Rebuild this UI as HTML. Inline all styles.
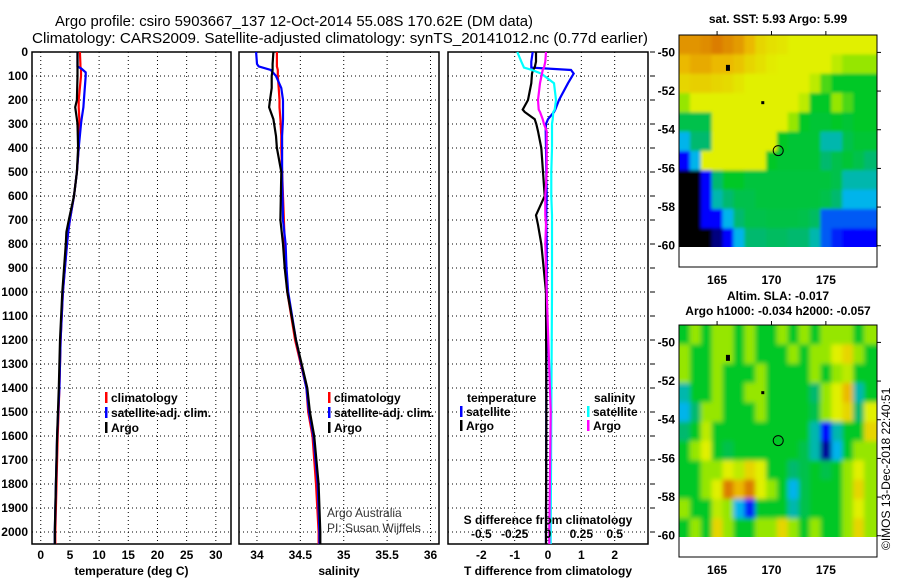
<!DOCTYPE html>
<html><head><meta charset="utf-8"><style>
body{margin:0;background:#fff;}
svg{display:block;font-family:"Liberation Sans",sans-serif;font-weight:bold;}
</style></head><body>
<svg id="c" width="900" height="580" viewBox="0 0 900 580" xmlns="http://www.w3.org/2000/svg">
<defs>
<filter id="blurS" x="-5%" y="-5%" width="110%" height="110%"><feGaussianBlur stdDeviation="1.5"/></filter>
<filter id="blurL" x="-5%" y="-5%" width="110%" height="110%"><feGaussianBlur stdDeviation="2.5"/></filter>
<clipPath id="clip1"><rect x="679" y="35" width="198" height="212"/></clipPath>
<clipPath id="clip2"><rect x="679" y="325" width="198" height="212"/></clipPath>
</defs>
<text x="55" y="26" font-size="15" font-weight="normal" textLength="478" lengthAdjust="spacingAndGlyphs">Argo profile: csiro 5903667_137 12-Oct-2014 55.08S 170.62E (DM data)</text>
<text x="32" y="43" font-size="15" font-weight="normal" textLength="616" lengthAdjust="spacingAndGlyphs">Climatology: CARS2009. Satellite-adjusted climatology: synTS_20141012.nc (0.77d earlier)</text>
<g id="g"></g>
<text transform="translate(890,550) rotate(-90)" font-size="12" font-weight="normal">©IMOS 13-Dec-2018 22:40:51</text>
</svg>
<script>
// ---------- profile data ----------
const tDepth=[0,50,60,70,85,100,200,230,280,300,400,500,600,700,750,800,1000,1200,1400,1600,1800,2000,2050];
const tClim=[6.7,6.8,6.8,6.9,6.9,6.9,6.5,6.5,6.6,6.6,6.5,6.2,5.7,5.0,4.7,4.5,3.8,3.4,3.2,2.9,2.7,2.5,2.5];
const tArgo=[6.3,6.3,6.3,6.3,6.3,6.3,6.2,5.9,6.2,6.3,6.4,6.2,5.7,4.8,4.4,4.3,3.7,3.3,3.1,2.8,2.6,2.4,2.4];
const tSat=[6.3,6.3,6.3,7.0,7.7,7.7,7.4,7.3,7.0,6.9,6.5,6.2,5.7,5.0,4.7,4.5,3.8,3.4,3.2,2.8,2.6,2.4,2.4];
const sDepth=[0,50,60,75,100,150,200,230,280,350,400,500,700,800,900,1000,1200,1400,1500,1600,1800,2000,2050];
const sClim=[34.23,34.23,34.23,34.24,34.24,34.25,34.26,34.26,34.27,34.28,34.28,34.29,34.31,34.32,34.33,34.35,34.44,34.57,34.59,34.64,34.68,34.71,34.71];
const sArgo=[34.19,34.18,34.18,34.18,34.17,34.17,34.15,34.14,34.19,34.22,34.23,34.28,34.27,34.30,34.32,34.35,34.45,34.58,34.61,34.66,34.71,34.73,34.73];
const sSat=[33.99,34.0,34.02,34.16,34.22,34.28,34.30,34.30,34.30,34.29,34.29,34.29,34.30,34.33,34.34,34.36,34.45,34.57,34.60,34.65,34.70,34.72,34.72];
const dDepth=[0,40,65,75,90,130,200,240,250,280,300,330,400,500,600,680,720,800,1000,1500,2000,2050];
const dTSat=[-0.46,-0.5,-0.5,0.69,0.77,0.6,0.33,0.22,0.18,0.0,-0.06,-0.07,-0.06,-0.05,-0.04,-0.05,-0.05,-0.04,-0.04,-0.05,-0.06,-0.06];
const dTArgo=[-0.36,-0.36,-0.4,-0.45,-0.48,-0.5,-0.6,-0.76,-0.7,-0.4,-0.35,-0.3,-0.2,-0.15,-0.1,-0.36,-0.3,-0.2,-0.06,-0.05,-0.06,-0.06];
const dSSat=[-0.23,-0.2,-0.18,-0.12,-0.05,0.045,0.06,0.05,0.04,0.035,0.03,0.03,0.03,0.025,0.025,0.03,0.03,0.03,0.03,0.025,0.02,0.02];
const dSArgo=[-0.015,-0.02,-0.03,-0.04,-0.045,-0.06,-0.075,-0.07,-0.06,-0.04,-0.03,-0.01,-0.01,-0.01,-0.02,-0.02,-0.015,-0.02,-0.01,0.02,0.01,0.01];
const depthTicks=[0,100,200,300,400,500,600,700,800,900,1000,1100,1200,1300,1400,1500,1600,1700,1800,1900,2000];
const tTicks=[0,5,10,15,20,25,30];
const sTicks=[34,34.5,35,35.5,36];
const dTTicks=[-2,-1,0,1,2];
const dSTicks=[-0.5,-0.25,0,0.25,0.5];
const dSTickLabels=["-0.5","-0.25","0","0.25","0.5"];
// ---------- map data (colour index 0..8, rows lat -49..-60, cols lon 161.5..179.5) ----------
const sstGrid=[
[7.5,7.5,7.6,7.8,7.6,7.4,7,6.5,6.3,6.2,6,6,6,6,6,6,6,6],
[7,7.2,7.2,7,7,6.8,6.5,6.3,6.1,6,6,6,6,6,5.5,5,5,5],
[6.5,6.6,6.6,6.5,6.4,6.2,6,6,6,6,6,6,5.5,4.5,4,4,4,4],
[5,6,6,6,6,6,6,6,6,6,6,5.5,4,4,5,4.5,4,4],
[3.5,3.5,3.5,6,6,6,6,6,6,6,5,4,3.8,3.8,4,3.8,4,4],
[2,3,3,6,6,6,6,6,6,4,3.8,3.8,3.8,2.5,2.5,3.5,3.8,3.8],
[1,2,6,6,6,6,6,6,4,3.8,3.8,3.8,3.8,3,3.5,3.8,3.5,3],
[0,0,1,3,4,4,3.7,3.7,3.7,3.7,3.7,3.7,3.7,3.7,3.5,2.5,2.5,2.5],
[0,0,1,2.5,3,3.5,3.5,3.7,3.7,3.7,3.7,3.7,3.7,3.5,3,2,2,2],
[0,0,1,1,2,3,3.5,3.5,3.6,3.6,3.6,3.5,3.2,1.5,1.5,1.5,1.5,1.5],
[0,0,0,0.5,1,2,3,3,3.2,3.2,3,3,2.5,1.5,1.2,1,1,1]];
const slaGrid=[
[4,5,4,5,5,4,5,4,4,5,4,5,4,5,5,5,4,5],
[5,4,4,5,5,4,5,4,4,4,5,4,5,5,6,6.5,5,4],
[5,4,4,5,4,4,4,5,4,4,4,4,5,4,5,5.5,4,4],
[2.5,4,4,5,4,4,5,5,4,4,4,4,3,5,6,7,2.5,4],
[2,3,5,5,4,4,4,5,4,4,4,4,3.5,5,6,6.5,3,6],
[3,4,5.5,4,4,4,4,4,4,4,4,4,2.5,1,2.5,4,4,6.5],
[4,5,6,4,3.5,4,4,4,4,4,4,3.5,2.5,0.6,2,4,5,5],
[4,4,5,5,6,5.5,6.5,6,4,4,3,3.5,4,3.5,4,5,6,5],
[4,4,5,6,7.8,7,7.8,6,5,4,2,3.5,4,4,4,5,6.5,5],
[5,4,4,5.5,5,2,1.2,4,4,4,2.5,3.5,4,4,4,5,6,5],
[4,5,4,6.5,5,4,4,5,5,6.5,5,4,5,4,4,5,6.5,5]];
const latTicks=[-50,-52,-54,-56,-58,-60];
const lonTicks=[165,170,175];
const floatLon=170.62, floatLat=-55.08;

const NS='http://www.w3.org/2000/svg';
const G=document.getElementById('g');
function el(tag,attrs,parent){const e=document.createElementNS(NS,tag);for(const k in attrs)e.setAttribute(k,attrs[k]);(parent||G).appendChild(e);return e;}
const yTop=52,yBot=544;
const yD=d=>yTop+d*0.24;
function panel(name,x0,x1,dom,ticks,labels,xlabel,showY){
  const g=el('g',{});
  
  
  const xs=v=>x0+(v-dom[0])/(dom[1]-dom[0])*(x1-x0);
  ticks.forEach((t,i)=>{
    const gl=el('line',{x1:xs(t),x2:xs(t),y1:yTop,y2:yBot,stroke:'#000','stroke-width':1,'stroke-dasharray':'1,3'},g);
    
    
    if(labels){const tx=el('text',{x:xs(t),y:yBot+15,'text-anchor':'middle','font-size':12},g);tx.textContent=labels[i];
    
    }
  });
  depthTicks.forEach(d=>{
    const gl=el('line',{x1:x0,x2:x1,y1:yD(d),y2:yD(d),stroke:'#000','stroke-width':1,'stroke-dasharray':'1,3'},g);
    
    
    if(showY){const tx=el('text',{x:28,y:yD(d)+4,'text-anchor':'end','font-size':12},g);tx.textContent=d;
    
    }
  });
  const r=el('rect',{x:x0,y:yTop,width:x1-x0,height:yBot-yTop,fill:'none',stroke:'#000','stroke-width':1.5},g);
  
  
  if(xlabel){const t=el('text',{x:(x0+x1)/2,y:575,'text-anchor':'middle','font-size':12},g);t.textContent=xlabel;
  
  }
  return {g,xs};
}
function series(p,xv,dv,color,name){
  const pts=xv.map((v,i)=>p.xs(v).toFixed(1)+','+yD(dv[i]).toFixed(1)).join(' ');
  const l=el('polyline',{points:pts,fill:'none',stroke:color,'stroke-width':2.2},p.g);
  
  
}
function legend(g,x,y,color,label,name){
  const m=el('rect',{x:x,y:y-10,width:2.5,height:11,fill:color},g);
  
  
  const t=el('text',{x:x+6,y:y,'font-size':12},g);t.textContent=label;
  
  
}
// panel 1
const p1=panel('temperature-panel',32,231,[-1.5,32.6],tTicks,tTicks,'temperature (deg C)',true);
series(p1,tClim,tDepth,'#f00','temperature-climatology-line');
series(p1,tSat,tDepth,'#00f','temperature-satellite-line');
series(p1,tArgo,tDepth,'#000','temperature-argo-line');
legend(p1.g,105,402,'#f00','climatology','legend-climatology');
legend(p1.g,105,417,'#00f','satellite-adj. clim.','legend-satellite');
legend(p1.g,105,432,'#000','Argo','legend-argo');
// panel 2
const p2=panel('salinity-panel',239,439,[33.793,36.098],sTicks,sTicks,'salinity',false);
series(p2,sClim,sDepth,'#f00','salinity-climatology-line');
series(p2,sSat,sDepth,'#00f','salinity-satellite-line');
series(p2,sArgo,sDepth,'#000','salinity-argo-line');
legend(p2.g,328,402,'#f00','climatology','legend-climatology');
legend(p2.g,328,417,'#00f','satellite-adj. clim.','legend-satellite');
legend(p2.g,328,432,'#000','Argo','legend-argo');
let t1=el('text',{x:327,y:517,'font-size':12,'font-weight':'normal',fill:'#333'},p2.g);t1.textContent='Argo Australia';


let t2=el('text',{x:327,y:532,'font-size':12,'font-weight':'normal',fill:'#333'},p2.g);t2.textContent='PI: Susan Wijffels';


// panel 3
const p3=panel('difference-panel',448,648,[-3,3],dTTicks,dTTicks,'T difference from climatology',false);
const p3s={g:p3.g,xs:v=>p3.xs(v*4)};
series(p3,dTSat,dDepth,'#00f','t-diff-satellite-line');
series(p3,dTArgo,dDepth,'#000','t-diff-argo-line');
series(p3s,dSSat,dDepth,'#0ff','s-diff-satellite-line');
series(p3s,dSArgo,dDepth,'#f0f','s-diff-argo-line');
dSTicks.forEach((v,i)=>{const t=el('text',{x:p3s.xs(v),y:538,'text-anchor':'middle','font-size':12},p3.g);t.textContent=dSTickLabels[i];

});
let st=el('text',{x:548,y:524,'text-anchor':'middle','font-size':12},p3.g);st.textContent='S difference from climatology';


let lt=el('text',{x:467,y:402,'font-size':12},p3.g);lt.textContent='temperature';


let ls=el('text',{x:594,y:402,'font-size':12},p3.g);ls.textContent='salinity';


legend(p3.g,460,416,'#00f','satellite','legend-t-satellite');
legend(p3.g,460,430,'#000','Argo','legend-t-argo');
legend(p3.g,587,416,'#0ff','satellite','legend-s-satellite');
legend(p3.g,587,430,'#f0f','Argo','legend-s-argo');
for(let i=0;i<=20;i++){el('line',{x1:650,x2:655,y1:yD(i*100),y2:yD(i*100),stroke:'#000'},p3.g);}
// maps
const cstops=[[0,0,0],[0,0,255],[0,180,235],[0,185,110],[0,200,40],[150,230,0],[225,240,0],[235,185,0],[215,110,0]];
function col(v){const i=Math.max(0,Math.min(7,Math.floor(v)));const f=Math.max(0,Math.min(1,v-i));const a=cstops[i],b=cstops[i+1];
return 'rgb('+a.map((c,k)=>Math.round(c+(b[k]-c)*f)).join(',')+')';}
function map(name,top,grid,title1,title2,clip,filt){
  const g=el('g',{});
  
  
  const x0=679,x1=877,bot=top+232;
  const xs=lon=>x0+(lon-161.5)/(179.7-161.5)*(x1-x0);
  const ys=lat=>top+(-49.1-lat)/(12)*(bot-top);
  const cg=el('g',{'clip-path':'url(#'+clip+')'},g);
  const cells=el('g',{filter:'url(#'+filt+')'},cg);
  grid.forEach((row,r)=>row.forEach((v,c)=>{
    const la0=-49.1-r+(r==0?0.6:0), la1=r==grid.length-1?-60.6:la0-1+(r==0?-0.6:0);
    const lo0=161.5+c-(c==0?0.6:0), lo1=c==row.length-1?180.4:161.5+c+1;
    const cell=el('rect',{x:xs(lo0),y:ys(la0),width:xs(lo1)-xs(lo0)+0.5,height:ys(la1)-ys(la0)+0.5,fill:col(v)},cells);
    
    
  }));
  const fr=el('rect',{x:x0,y:top,width:x1-x0,height:bot-top,fill:'none',stroke:'#000','stroke-width':1},g);
  
  
  latTicks.forEach(l=>{el('line',{x1:x1,x2:x1+4,y1:ys(l),y2:ys(l),stroke:'#000'},g);
    const t=el('text',{x:675,y:ys(l)+4,'text-anchor':'end','font-size':12},g);t.textContent=l;
    
    });
  lonTicks.forEach(l=>{el('line',{x1:xs(l),x2:xs(l),y1:top,y2:top-4,stroke:'#000'},g);
    const t=el('text',{x:xs(l),y:bot+17,'text-anchor':'middle','font-size':12},g);t.textContent=l;
    
    });
  const c=el('circle',{cx:xs(floatLon),cy:ys(floatLat),r:5,fill:'none',stroke:'#000','stroke-width':1},g);
  
  
  el('rect',{x:xs(166)-2,y:ys(-50.8)-3,width:4,height:6,fill:'#000'},g);
  el('rect',{x:xs(169.2)-1.5,y:ys(-52.6)-1.5,width:3,height:3,fill:'#000'},g);
  if(title2){const t=el('text',{x:778,y:top-25,'text-anchor':'middle','font-size':12},g);t.textContent=title1;
    
    const t2=el('text',{x:778,y:top-10,'text-anchor':'middle','font-size':12},g);t2.textContent=title2;
    }
  else{const t=el('text',{x:778,y:top-12,'text-anchor':'middle','font-size':12},g);t.textContent=title1;
    }
}
map('sst-map',35,sstGrid,'sat. SST: 5.93 Argo: 5.99',null,'clip1','blurS');
map('sla-map',325,slaGrid,'Altim. SLA: -0.017','Argo h1000: -0.034 h2000: -0.057','clip2','blurL');
</script>
</body></html>
